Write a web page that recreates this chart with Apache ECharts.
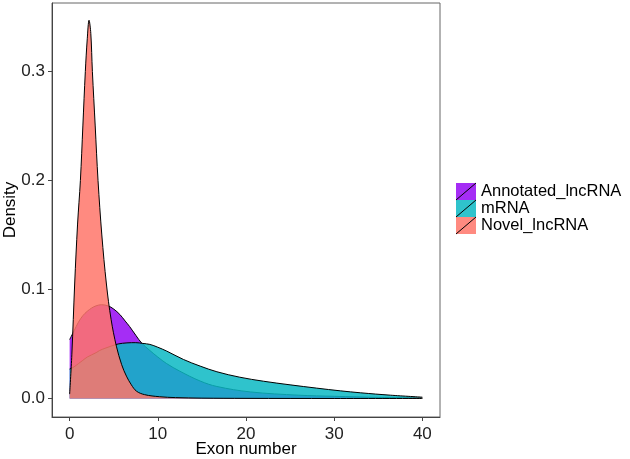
<!DOCTYPE html>
<html>
<head>
<meta charset="utf-8">
<script src="https://cdn.jsdelivr.net/npm/echarts@6/dist/echarts.min.js"></script>
<style>
html,body{margin:0;padding:0;background:#fff;}
#chart{width:630px;height:459px;}
</style>
</head>
<body>
<div id="chart"></div>
<script>
const seriesNames = ['Annotated_lncRNA', 'mRNA', 'Novel_lncRNA'];

const annoX = [0, 0.5, 1, 1.5, 2, 2.5, 3, 3.6, 4.35, 5, 5.7, 6.3, 6.8, 7.5, 8.15, 9.1, 10, 11, 12.5, 14.8, 16.7, 20.5, 26, 30, 35, 40];
const annoY = [0.054, 0.062, 0.070, 0.076, 0.080, 0.083, 0.085, 0.086, 0.085, 0.082, 0.077, 0.071, 0.066, 0.058, 0.051, 0.044, 0.038, 0.032, 0.025, 0.016, 0.011, 0.006, 0.003, 0.002, 0.001, 0.0005];

const mrnaX = [0, 0.5, 1, 1.5, 2, 3, 3.4, 4, 4.7, 5.5, 6.5, 7.5, 8.3, 9.1, 10, 11, 12.9, 14.8, 16.7, 19.3, 22, 25, 28, 30.7, 33, 36.4, 40];
const mrnaY = [0.027, 0.029, 0.032, 0.035, 0.038, 0.042, 0.044, 0.046, 0.048, 0.050, 0.051, 0.0512, 0.0505, 0.0496, 0.047, 0.0435, 0.0358, 0.0297, 0.0245, 0.0195, 0.0158, 0.0125, 0.0095, 0.0070, 0.0052, 0.0030, 0.0012];

const novelX = [0, 0.25, 0.57, 0.9, 1.22, 1.5, 1.78, 2.0, 2.2, 2.4, 2.58, 2.9, 3.22, 3.65, 4.17, 4.7, 5.3, 5.9, 6.44, 7.0, 7.58, 8.5, 10.2, 12, 15, 20, 30, 40];
const novelY = [0.004, 0.04, 0.105, 0.16, 0.2, 0.25, 0.3, 0.33, 0.347, 0.335, 0.3, 0.25, 0.2, 0.15, 0.105, 0.0726, 0.048, 0.031, 0.0205, 0.0125, 0.0067, 0.0035, 0.0016, 0.0008, 0.0003, 0.0001, 0, 0];

const xTicks = [0, 10, 20, 30, 40];
const yTicks = [0, 0.1, 0.2, 0.3];
const yTickLabels = ['0.0', '0.1', '0.2', '0.3'];

const fills = ['rgba(149,8,243,0.85)', 'rgba(10,185,195,0.85)', 'rgba(255,118,106,0.85)'];

function pairs(xs, ys) { return xs.map((x, i) => [x, ys[i]]); }
const allData = [pairs(annoX, annoY), pairs(mrnaX, mrnaY), pairs(novelX, novelY)];

const FONT = 'Liberation Sans';
const chart = echarts.init(document.getElementById('chart'), null, {renderer: 'canvas'});

const legTop = 183, legLeft = 456, keyW = 20, keyH = 17;
const graphics = [0, 1, 2].map(i => ({
  type: 'line',
  shape: {x1: legLeft, y1: legTop + keyH * (i + 1), x2: legLeft + keyW, y2: legTop + keyH * i},
  style: {stroke: '#000', lineWidth: 1},
  z: 100
}));

chart.setOption({
  animation: false,
  backgroundColor: '#fff',
  grid: {left: 52, right: 190, top: 3, bottom: 42, show: true, borderColor: '#666', borderWidth: 1,
    containLabel: false, outerBoundsMode: 'none'},
  xAxis: {
    type: 'value', min: -2, max: 42,
    name: 'Exon number', nameLocation: 'middle', nameGap: 24, nameMoveOverlap: false,
    nameTextStyle: {fontFamily: FONT, fontSize: 17, color: '#000'},
    axisLine: {show: true, onZero: false, lineStyle: {color: '#444', width: 1}},
    axisTick: {show: true, length: 4, customValues: xTicks, lineStyle: {color: '#444'}},
    axisLabel: {customValues: xTicks, margin: 9, fontFamily: FONT, fontSize: 17, color: '#222'},
    splitLine: {show: false}
  },
  yAxis: {
    type: 'value', min: -0.017, max: 0.3628,
    name: 'Density', nameLocation: 'middle', nameGap: 33, nameMoveOverlap: false,
    nameTextStyle: {fontFamily: FONT, fontSize: 17, color: '#000'},
    axisLine: {show: true, onZero: false, lineStyle: {color: '#444', width: 1}},
    axisTick: {show: true, length: 4, customValues: yTicks, lineStyle: {color: '#444'}},
    axisLabel: {customValues: yTicks, margin: 7, fontFamily: FONT, fontSize: 17, color: '#222',
      formatter: v => { const i = yTicks.findIndex(t => Math.abs(t - v) < 1e-9); return i >= 0 ? yTickLabels[i] : ''; }},
    splitLine: {show: false}
  },
  legend: {
    orient: 'vertical', left: legLeft, top: legTop, padding: 0,
    itemWidth: keyW, itemHeight: keyH, itemGap: 0, icon: 'rect',
    textStyle: {fontFamily: FONT, fontSize: 16.5, color: '#000', lineHeight: 17},
    data: seriesNames.map((n, i) => ({name: n, itemStyle: {color: fills[i], borderWidth: 0}}))
  },
  graphic: graphics,
  series: seriesNames.map((n, i) => ({
    name: n, type: 'line', data: allData[i],
    smooth: 0.35, symbol: 'none',
    color: fills[i],
    itemStyle: {color: fills[i]},
    lineStyle: {color: '#000', width: 1},
    areaStyle: {color: fills[i], opacity: 1, origin: 0},
    z: 2 + i
  }))
});
</script>
</body>
</html>
